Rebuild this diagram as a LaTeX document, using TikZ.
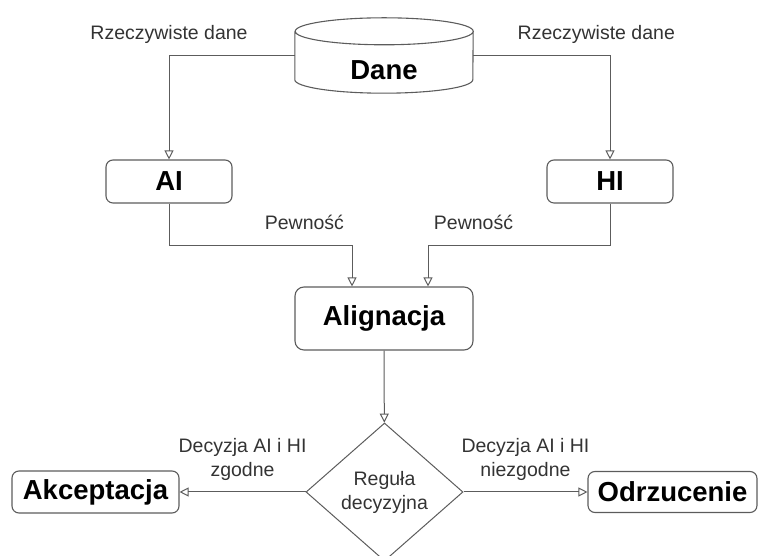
\documentclass[tikz,border=0pt]{standalone}
\usepackage{fontspec}
\setmainfont{Liberation Sans}
\usetikzlibrary{arrows.meta,shapes.geometric}
\definecolor{linegray}{HTML}{5C5C5C}
\definecolor{txtgray}{HTML}{333333}
\tikzset{
  box/.style={draw=linegray, line width=1.1pt, rounded corners=7pt, inner sep=0pt,
    font=\fontsize{27.5}{30}\selectfont\bfseries},
  flow/.style={draw=linegray, line width=1pt, -{Triangle[open,length=9pt,width=9pt]}},
  lbl/.style={text=txtgray, font=\fontsize{19.5}{24}\selectfont, align=center, inner sep=0pt},
}
\begin{document}
\begin{tikzpicture}[x=1pt,y=1pt]
  \useasboundingbox (0,0) rectangle (760,556);
  % nodes
  \node[inner sep=0pt, minimum width=178pt, minimum height=75pt,
    label={[font=\fontsize{27.5}{30}\selectfont\bfseries, yshift=-14.5pt]center:Dane}] (dane) at (384,500.5) {};
  \draw[draw=linegray, line width=1.1pt] ([yshift=-13.5pt]dane.north west) -- ([yshift=13.5pt]dane.south west)
    arc[start angle=180, end angle=360, x radius=89, y radius=13.5]
    -- ([yshift=-13.5pt]dane.north east)
    arc[start angle=0, end angle=360, x radius=89, y radius=13.5];
  \node[box, minimum width=126pt, minimum height=43pt] (ai) at (169,374.5) {AI};
  \node[box, minimum width=126pt, minimum height=43pt] (hi) at (610,374.5) {HI};
  \node[box, minimum width=178pt, minimum height=63pt, rounded corners=9pt] (alig) at (384,237.5) {Alignacja};
  \node[diamond, draw=linegray, line width=1pt, minimum width=157pt, minimum height=138pt,
    aspect=1.14, lbl] (rule) at (384.5,64) {Reguła\\decyzyjna};
  \node[box, minimum width=167pt, minimum height=42pt] (akc) at (95.5,64) {Akceptacja};
  \node[box, minimum width=169pt, minimum height=41pt] (odrz) at (672.5,64) {Odrzucenie};
  % connectors
  \draw[flow] (dane.west) -| (ai.north) node[lbl, pos=0.5, above=11.5pt] {Rzeczywiste dane};
  \draw[flow] (dane.east) -| (hi.north) node[lbl, pos=0.45, above=11.5pt] {Rzeczywiste dane};
  \draw[flow] (ai.south) -- ++(0,-42) -| ([xshift=-32pt]alig.north) node[lbl, pos=0.37, above=15pt] {Pewność};
  \draw[flow] (hi.south) -- ++(0,-42) -| ([xshift=44pt]alig.north) node[lbl, pos=0.375, above=15pt] {Pewność};
  \draw[flow] (alig) -- (rule);
  \draw[flow] (rule) -- (akc) node[lbl, midway, above=11pt] {Decyzja AI i HI\\zgodne};
  \draw[flow] (rule) -- (odrz) node[lbl, midway, above=11pt] {Decyzja AI i HI\\niezgodne};
\end{tikzpicture}
\end{document}
